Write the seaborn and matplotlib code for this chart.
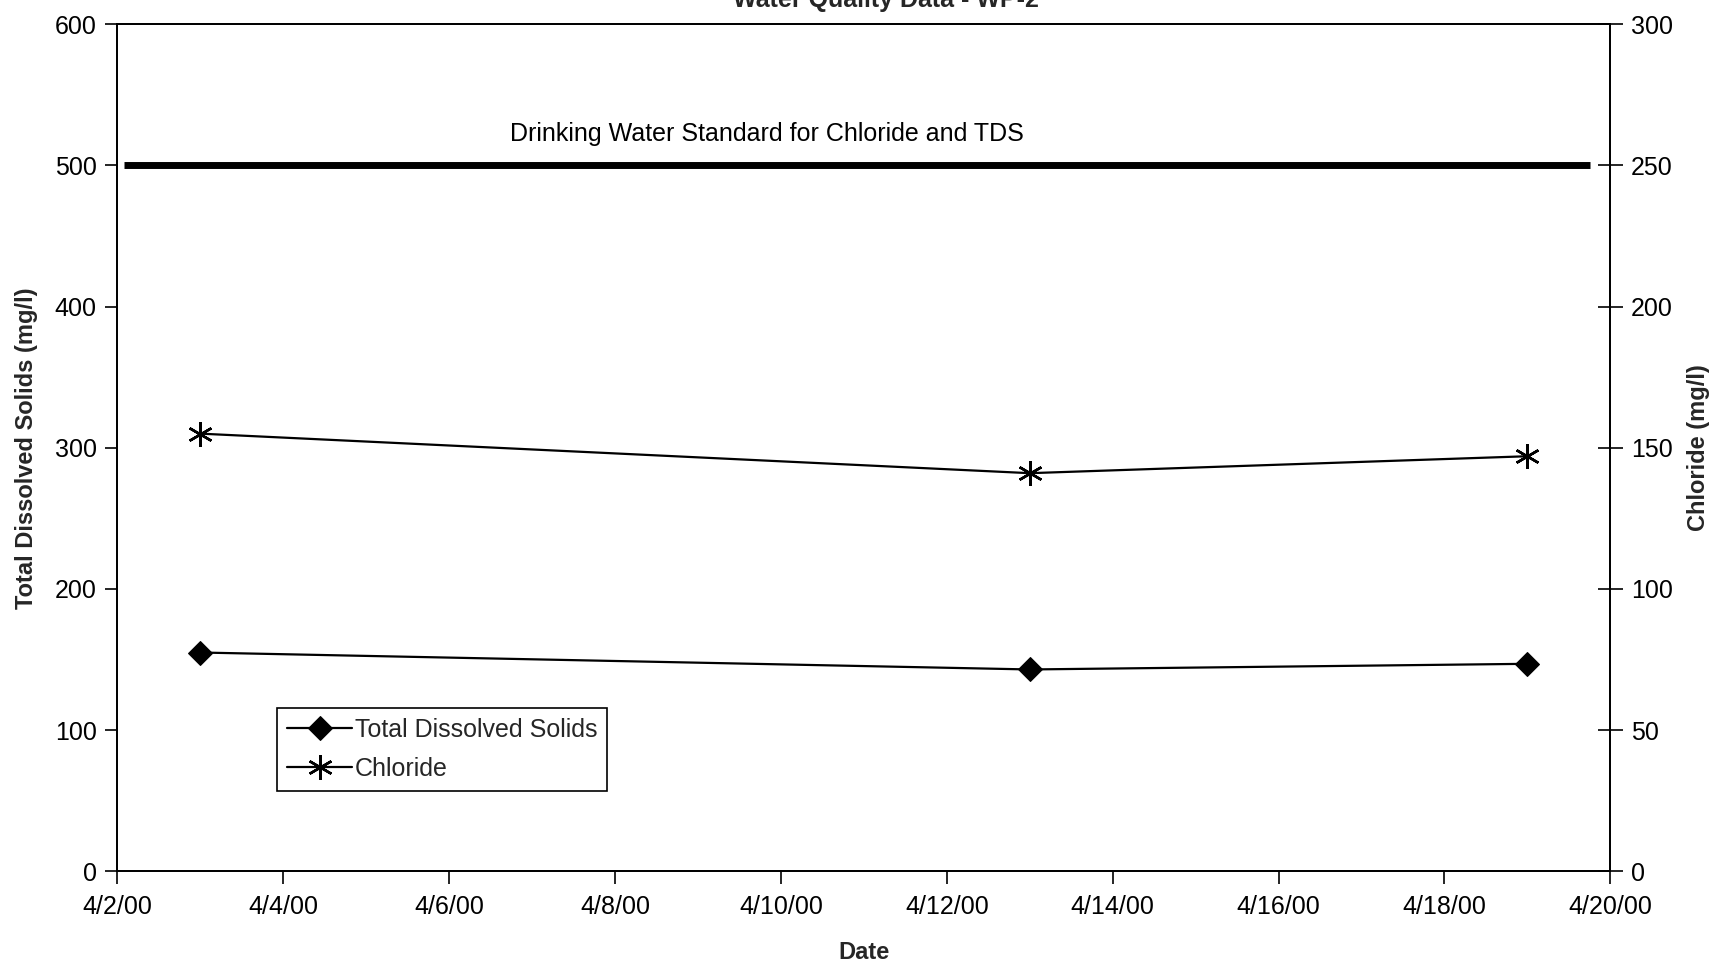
import matplotlib
matplotlib.use("Agg")
import matplotlib.pyplot as plt
import matplotlib.dates as mdates
import numpy as np
import pandas as pd
import seaborn as sns

# Sample dates and measured concentrations
dates = ["2000-04-03", "2000-04-13", "2000-04-19"]
tds_values = [155, 143, 147]          # Total Dissolved Solids, mg/l
chloride_values = [155, 141, 147]     # Chloride, mg/l
standard_tds = 500                    # drinking water standard, TDS
standard_chloride = 250               # drinking water standard, chloride
left_ticks = [0, 100, 200, 300, 400, 500, 600]
right_ticks = [0, 50, 100, 150, 200, 250, 300]
x_start, x_end = "2000-04-02", "2000-04-20"

sns.set_style("white")
plt.rcParams["font.family"] = ["Liberation Sans", "DejaVu Sans"]

df = pd.DataFrame({
    "Date": pd.to_datetime(dates),
    "TDS": tds_values,
    "Chloride": chloride_values,
})

fig = plt.figure(figsize=(17.26, 9.65), dpi=100)
ax = fig.add_axes([0.068, 0.097, 0.865, 0.878])
ax2 = ax.twinx()

# Drinking-water standard line (same level on both axes)
std_df = pd.DataFrame({
    "Date": pd.to_datetime(["2000-04-02 02:00", "2000-04-19 18:00"]),
    "Standard": [standard_tds, standard_tds],
})
sns.lineplot(data=std_df, x="Date", y="Standard", ax=ax, color="black",
             linewidth=5, legend=False, solid_capstyle="butt")

sns.lineplot(data=df, x="Date", y="TDS", ax=ax, color="black", linewidth=1.6,
             marker="D", markersize=12, markeredgecolor="black",
             label="Total Dissolved Solids", legend=False)
sns.lineplot(data=df, x="Date", y="Chloride", ax=ax2, color="black", linewidth=1.6,
             marker=(6, 2, 0), markersize=18, markeredgewidth=1.8,
             markeredgecolor="black", label="Chloride", legend=False)

ax.set_xlim(pd.Timestamp(x_start), pd.Timestamp(x_end))
ax.set_ylim(0, 600)
ax2.set_ylim(0, 300)
ax.set_yticks(left_ticks)
ax2.set_yticks(right_ticks)

ax.xaxis.set_major_locator(mdates.DayLocator(interval=2))
ax.xaxis.set_major_formatter(
    plt.FuncFormatter(lambda v, p: (lambda d: f"{d.month}/{d.day}/{d:%y}")(mdates.num2date(v)))
)

for spine in list(ax.spines.values()) + list(ax2.spines.values()):
    spine.set_color("black")
    spine.set_linewidth(1.3)

ax.tick_params(axis="y", direction="out", length=9, width=1.2, labelsize=18,
               colors="black", pad=6, left=True)
ax.tick_params(axis="x", direction="out", length=9, width=1.2, labelsize=18,
               colors="black", pad=8, bottom=True)
ax2.tick_params(axis="y", direction="inout", length=18, width=1.2, labelsize=18,
                colors="black", pad=6, right=True)

ax.set_xlabel("Date", fontsize=17, fontweight="bold", labelpad=16)
ax.set_ylabel("Total Dissolved Solids (mg/l)", fontsize=17, fontweight="bold", labelpad=12)
ax2.set_ylabel("Chloride (mg/l)", fontsize=17, fontweight="bold", labelpad=10)

ax.text(pd.Timestamp("2000-04-09 20:00"), 514, "Drinking Water Standard for Chloride and TDS",
        ha="center", va="bottom", fontsize=18, color="black")

fig.suptitle("Water Quality Data - WP-2", x=0.513, y=0.993, fontsize=18,
             fontweight="bold", va="baseline")

handles = ax.get_lines()[1:2] + ax2.get_lines()[0:1]
leg = ax.legend(handles, ["Total Dissolved Solids", "Chloride"], loc="lower left",
                bbox_to_anchor=(0.107, 0.095), fontsize=18, frameon=True,
                fancybox=False, edgecolor="black", framealpha=1,
                handlelength=2.6, handletextpad=0.1, borderpad=0.4,
                labelspacing=0.6, borderaxespad=0)
leg.get_frame().set_linewidth(1.2)

fig.savefig("out.png", dpi=100, facecolor="white")
